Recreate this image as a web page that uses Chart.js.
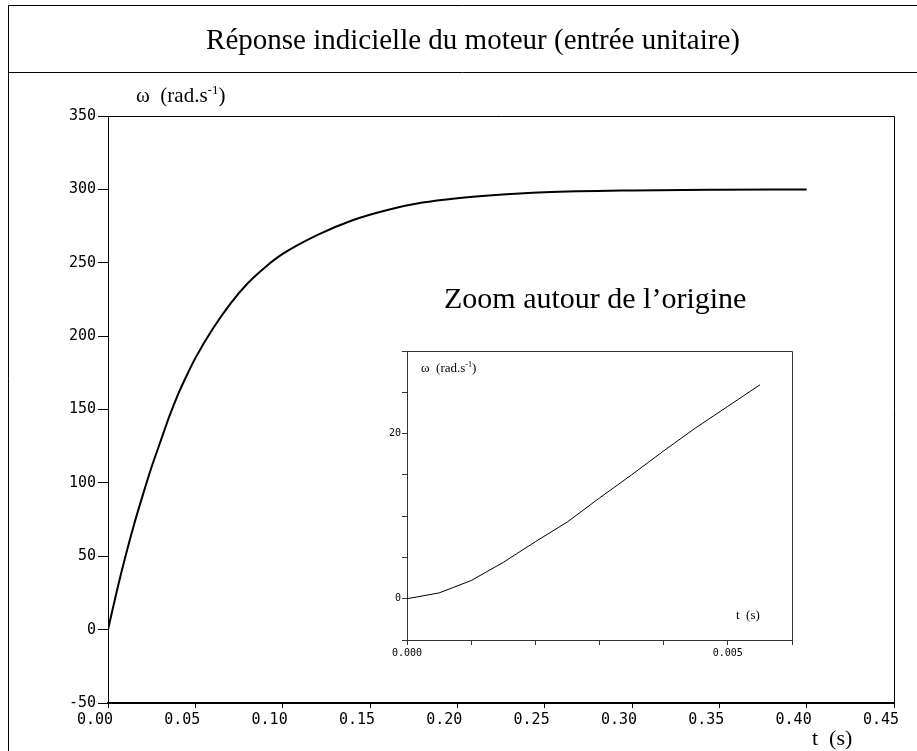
<!DOCTYPE html>
<html lang="fr">
<head>
  <meta charset="UTF-8">
  <title>Réponse indicielle du moteur</title>
  <script src="https://cdn.jsdelivr.net/npm/chart.js"></script>
  <style>
    body {
      margin: 0;
      background: white;
    }
    #page {
      position: relative;
      width: 917px;
      height: 751px;
      overflow: hidden;
    }
    canvas {
      position: absolute;
    }
  </style>
</head>
<body>
  <div id="page">
    <canvas id="graphique" width="917" height="751" style="left:0;top:0"></canvas>
    <canvas id="zoom" width="455" height="330" style="left:357px;top:338px"></canvas>
  </div>

  <script>
    // Courbe principale
    const tempsPrincipal = [0, 0.005, 0.01, 0.015, 0.02, 0.025, 0.03, 0.035, 0.04, 0.045, 0.05,
      0.06, 0.07, 0.08, 0.09, 0.10, 0.12, 0.14, 0.16, 0.18, 0.20, 0.22, 0.25, 0.30, 0.35, 0.40];
    const omegaPrincipal = [0, 26, 50, 72, 92, 111, 128, 145, 160, 173, 185,
      205, 222, 236, 247, 256, 269, 279, 286, 291, 294, 296, 298, 299.3, 299.8, 300];

    // Zoom autour de l'origine
    const tempsZoom = [0, 0.0005, 0.001, 0.0015, 0.002, 0.0025, 0.003, 0.0035, 0.004, 0.0045, 0.005, 0.0055];
    const omegaZoom = [0, 0.7, 2.2, 4.4, 6.9, 9.3, 12.2, 15.0, 17.9, 20.7, 23.3, 25.9];

    // Graduations
    const ticksX = [0, 0.05, 0.10, 0.15, 0.20, 0.25, 0.30, 0.35, 0.40, 0.45];
    const ticksY = [-50, 0, 50, 100, 150, 200, 250, 300, 350];
    const ticksZoomX = [0, 0.001, 0.002, 0.003, 0.004, 0.005, 0.006];
    const ticksZoomY = [-5, 0, 5, 10, 15, 20, 25, 30];
    const labelsZoomX = ["0.000", "", "", "", "", "0.005", ""];
    const labelsZoomY = ["", "0", "", "", "", "20", "", ""];

    const serif = "'Liberation Serif', 'Times New Roman', serif";
    const mono = "'DejaVu Sans Mono', monospace";

    // texte avec exposant : morceaux [texte, exposant?]
    function texteExposant(ctx, morceaux, x, y, taille) {
      ctx.textAlign = "left";
      ctx.textBaseline = "alphabetic";
      for (const [txt, sup] of morceaux) {
        const t = sup ? Math.round(taille * 0.62) : taille;
        ctx.font = t + "px " + serif;
        ctx.fillText(txt, x, sup ? y - taille * 0.38 : y);
        x += ctx.measureText(txt).width;
      }
    }

    function pts(xs, ys) {
      return xs.map((t, i) => ({ x: t, y: ys[i] }));
    }

    const decorPrincipal = {
      id: "decorPrincipal",
      afterDraw(chart) {
        const ctx = chart.ctx;
        const a = chart.chartArea;
        ctx.save();
        ctx.strokeStyle = "#000";
        ctx.lineWidth = 1;
        // cadre extérieur + séparation du titre
        ctx.beginPath();
        ctx.moveTo(8.5, 751);
        ctx.lineTo(8.5, 5.5);
        ctx.lineTo(917, 5.5);
        ctx.moveTo(8, 72.5);
        ctx.lineTo(917, 72.5);
        // haut et droite du graphe
        ctx.moveTo(a.left, Math.round(a.top) + 0.5);
        ctx.lineTo(a.right + 0.5, Math.round(a.top) + 0.5);
        ctx.lineTo(a.right + 0.5, a.bottom);
        ctx.stroke();

        ctx.fillStyle = "#000";
        ctx.font = "29px " + serif;
        ctx.textAlign = "center";
        ctx.textBaseline = "alphabetic";
        ctx.fillText("Réponse indicielle du moteur (entrée unitaire)", 473, 49);

        texteExposant(ctx, [["ω  (rad.s", false], ["-1", true], [")", false]], 136, 102, 21);

        ctx.font = "30px " + serif;
        ctx.textAlign = "left";
        ctx.fillText("Zoom autour de l’origine", 444, 308);

        ctx.font = "22px " + serif;
        ctx.fillText("t  (s)", 812, 745);
        ctx.restore();
      }
    };

    const decorZoom = {
      id: "decorZoom",
      afterDraw(chart) {
        const ctx = chart.ctx;
        const a = chart.chartArea;
        ctx.save();
        ctx.strokeStyle = "#333";
        ctx.lineWidth = 1;
        ctx.beginPath();
        ctx.moveTo(a.left, Math.round(a.top) + 0.5);
        ctx.lineTo(Math.round(a.right) + 0.5, Math.round(a.top) + 0.5);
        ctx.lineTo(Math.round(a.right) + 0.5, a.bottom);
        ctx.stroke();
        ctx.fillStyle = "#000";
        texteExposant(ctx, [["ω  (rad.s", false], ["-1", true], [")", false]], a.left + 14, a.top + 21, 13);
        ctx.font = "13px " + serif;
        ctx.fillText("t  (s)", a.left + 329, a.bottom - 21);
        ctx.restore();
      }
    };

    new Chart(document.getElementById("graphique"), {
      type: "line",
      data: {
        datasets: [{
          data: pts(tempsPrincipal, omegaPrincipal),
          borderColor: "#000",
          borderWidth: 2,
          pointRadius: 0,
          cubicInterpolationMode: "monotone",
          fill: false
        }]
      },
      options: {
        responsive: false,
        animation: false,
        events: [],
        layout: { padding: { left: 0, top: 116, right: 23, bottom: 0 } },
        plugins: { legend: { display: false }, tooltip: { enabled: false } },
        scales: {
          x: {
            type: "linear",
            min: 0,
            max: 0.45,
            afterFit: s => { s.height = 48; },
            afterBuildTicks: s => { s.ticks = ticksX.map(v => ({ value: v })); },
            border: { color: "#000", width: 2 },
            grid: { drawOnChartArea: false, tickLength: 5, color: "#000" },
            ticks: {
              color: "#000",
              align: "end",
              labelOffset: 5,
              padding: 3,
              font: { family: mono, size: 15 },
              callback: v => v.toFixed(2)
            }
          },
          y: {
            min: -50,
            max: 350,
            afterFit: s => { s.width = 108; },
            afterBuildTicks: s => { s.ticks = ticksY.map(v => ({ value: v })); },
            border: { color: "#000", width: 1 },
            grid: { drawOnChartArea: false, tickLength: 10, color: "#000" },
            ticks: {
              color: "#000",
              padding: 2,
              font: { family: mono, size: 15 },
              callback: v => String(v)
            }
          }
        }
      },
      plugins: [decorPrincipal]
    });

    new Chart(document.getElementById("zoom"), {
      type: "line",
      data: {
        datasets: [{
          data: pts(tempsZoom, omegaZoom),
          borderColor: "#000",
          borderWidth: 1,
          pointRadius: 0,
          tension: 0,
          fill: false
        }]
      },
      options: {
        responsive: false,
        animation: false,
        events: [],
        layout: { padding: { left: 0, top: 13, right: 20, bottom: 0 } },
        plugins: { legend: { display: false }, tooltip: { enabled: false } },
        scales: {
          x: {
            type: "linear",
            min: 0,
            max: 0.006,
            afterFit: s => { s.height = 28; },
            afterBuildTicks: s => { s.ticks = ticksZoomX.map(v => ({ value: v })); },
            border: { color: "#333", width: 1 },
            grid: { drawOnChartArea: false, tickLength: 5, color: "#333" },
            ticks: {
              color: "#000",
              padding: 2,
              font: { family: mono, size: 10 },
              callback: (v, i) => labelsZoomX[i]
            }
          },
          y: {
            min: -5,
            max: 30,
            afterFit: s => { s.width = 50; },
            afterBuildTicks: s => { s.ticks = ticksZoomY.map(v => ({ value: v })); },
            border: { color: "#333", width: 1 },
            grid: { drawOnChartArea: false, tickLength: 5, color: "#333" },
            ticks: {
              color: "#000",
              padding: 1,
              font: { family: mono, size: 10 },
              callback: (v, i) => labelsZoomY[i]
            }
          }
        }
      },
      plugins: [decorZoom]
    });
  </script>
</body>
</html>
